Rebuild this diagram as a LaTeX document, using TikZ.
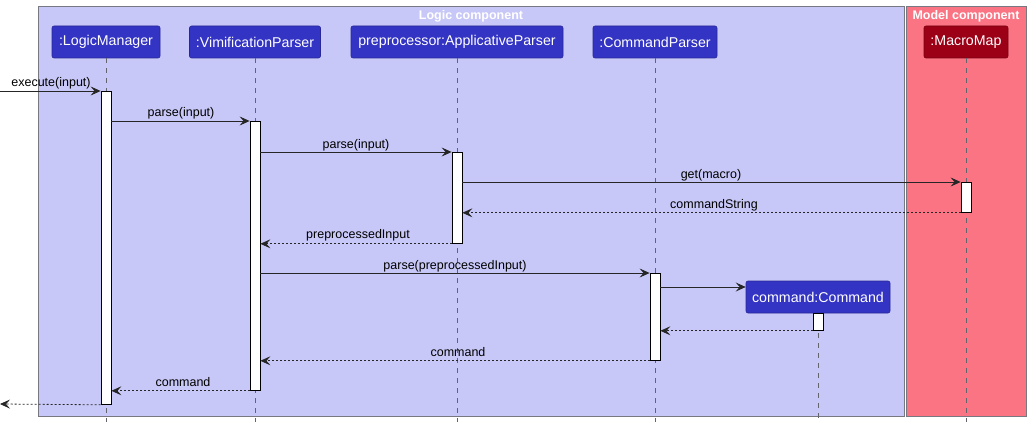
\documentclass[tikz,border=0pt]{standalone}
\usepackage{fontspec}
\setmainfont{Liberation Sans}
\usetikzlibrary{arrows.meta}
\definecolor{logicbg}{RGB}{200,200,248}
\definecolor{modelbg}{RGB}{250,116,132}
\definecolor{partblue}{RGB}{51,51,196}
\definecolor{partborder}{RGB}{40,40,150}
\definecolor{macrored}{RGB}{155,0,22}
\definecolor{macroborder}{RGB}{120,0,15}
\definecolor{frameline}{RGB}{120,120,130}
\definecolor{lifegray}{RGB}{100,100,110}
\tikzset{
  part/.style={draw=partborder, fill=partblue, rounded corners=2pt, text=white,
    minimum height=32pt, inner sep=0pt, font=\fontsize{14.2}{17}\selectfont, line width=0.6pt},
  macropart/.style={part, draw=macroborder, fill=macrored},
  act/.style={draw=black, fill=white, minimum width=10pt, inner sep=0pt, line width=0.8pt, anchor=north},
  life/.style={draw=lifegray, dash pattern=on 5pt off 5pt, line width=0.6pt},
  msg/.style={draw=black!85, line width=0.8pt, -{Stealth[length=10pt,width=9pt,inset=4pt]}},
  ret/.style={msg, dash pattern=on 2pt off 2pt},
  lbl/.style={font=\fontsize{12.5}{15}\selectfont, inner sep=0pt, anchor=base},
  ttl/.style={font=\bfseries\fontsize{12.5}{15}\selectfont, text=white, inner sep=0pt, anchor=base},
  grp/.style={draw=frameline, line width=0.8pt, anchor=north west, inner sep=0pt}
}
\begin{document}
\begin{tikzpicture}[x=1pt,y=-1pt]
\useasboundingbox[fill=white] (0,0) rectangle (1031,428);
% group boxes
\node[grp, fill=logicbg, minimum width=866pt, minimum height=410pt] (logicbox) at (38,6) {};
\node[grp, fill=modelbg, minimum width=120pt, minimum height=410pt] (modelbox) at (906,6) {};
\node[ttl] (logicttl) at (471,20) {Logic component};
\node[ttl] (modelttl) at (966,20) {Model component};
% end coordinates of lifelines
\coordinate (eLM) at (106,422);
\coordinate (eVP) at (255,422);
\coordinate (eAP) at (457,422);
\coordinate (eCP) at (655,422);
\coordinate (eMM) at (966,422);
\coordinate (eCmd) at (818,422);
% participants
\node[part, minimum width=108pt] (pLM) at (106,42) {:LogicManager};
\node[part, minimum width=131pt] (pVP) at (255,42) {:VimificationParser};
\node[part, minimum width=212pt] (pAP) at (457,42) {preprocessor:ApplicativeParser};
\node[part, minimum width=124pt] (pCP) at (655,42) {:CommandParser};
\node[macropart, minimum width=84pt] (pMM) at (966,42) {:MacroMap};
\node[part, minimum width=144pt] (pCmd) at (818,297) {command:Command};
% lifelines
\draw[life] (pLM.south) -- (eLM);
\draw[life] (pVP.south) -- (eVP);
\draw[life] (pAP.south) -- (eAP);
\draw[life] (pCP.south) -- (eCP);
\draw[life] (pMM.south) -- (eMM);
\draw[life] (pCmd.south) -- (eCmd);
% activations
\node[act, minimum height=313pt] (aLM) at (106,91) {};
\node[act, minimum height=269pt] (aVP) at (255,121) {};
\node[act, minimum height=91pt] (aAP) at (457,152) {};
\node[act, minimum height=30pt] (aMM) at (966,182) {};
\node[act, minimum height=87pt] (aCP) at (655,273) {};
\node[act, minimum height=17pt] (aCmd) at (818,313) {};
% free ends
\coordinate (inStart) at (0,91);
\coordinate (outEnd) at (0,404);
% messages
\draw[msg] (inStart) -- (aLM.north west);
\node[lbl] (l1) at (51,87) {execute(input)};
\draw[msg] (aLM.east |- aVP.north) -- (aVP.north west);
\node[lbl] (l2) at (181,117) {parse(input)};
\draw[msg] (aVP.east |- aAP.north) -- (aAP.north west);
\node[lbl] (l3) at (356,148) {parse(input)};
\draw[msg] (aAP.east |- aMM.north) -- (aMM.north west);
\node[lbl] (l4) at (711,178) {get(macro)};
\draw[ret] (aMM.south west) -- (aAP.east |- aMM.south);
\node[lbl] (l5) at (714,208) {commandString};
\draw[ret] (aAP.south west) -- (aVP.east |- aAP.south);
\node[lbl] (l6) at (358,238.5) {preprocessedInput};
\draw[msg] (aVP.east |- aCP.north) -- (aCP.north west);
\node[lbl] (l7) at (455,269) {parse(preprocessedInput)};
\coordinate (cr) at (660,287);
\draw[msg] (cr) -- (pCmd.west |- cr);
\draw[ret] (aCmd.south west) -- (aCP.east |- aCmd.south);
\draw[ret] (aCP.south west) -- (aVP.east |- aCP.south);
\node[lbl] (l8) at (458,356) {command};
\draw[ret] (aVP.south west) -- (aLM.east |- aVP.south);
\node[lbl] (l9) at (183,386) {command};
\draw[ret] (aLM.south west) -- (outEnd);
\end{tikzpicture}
\end{document}
